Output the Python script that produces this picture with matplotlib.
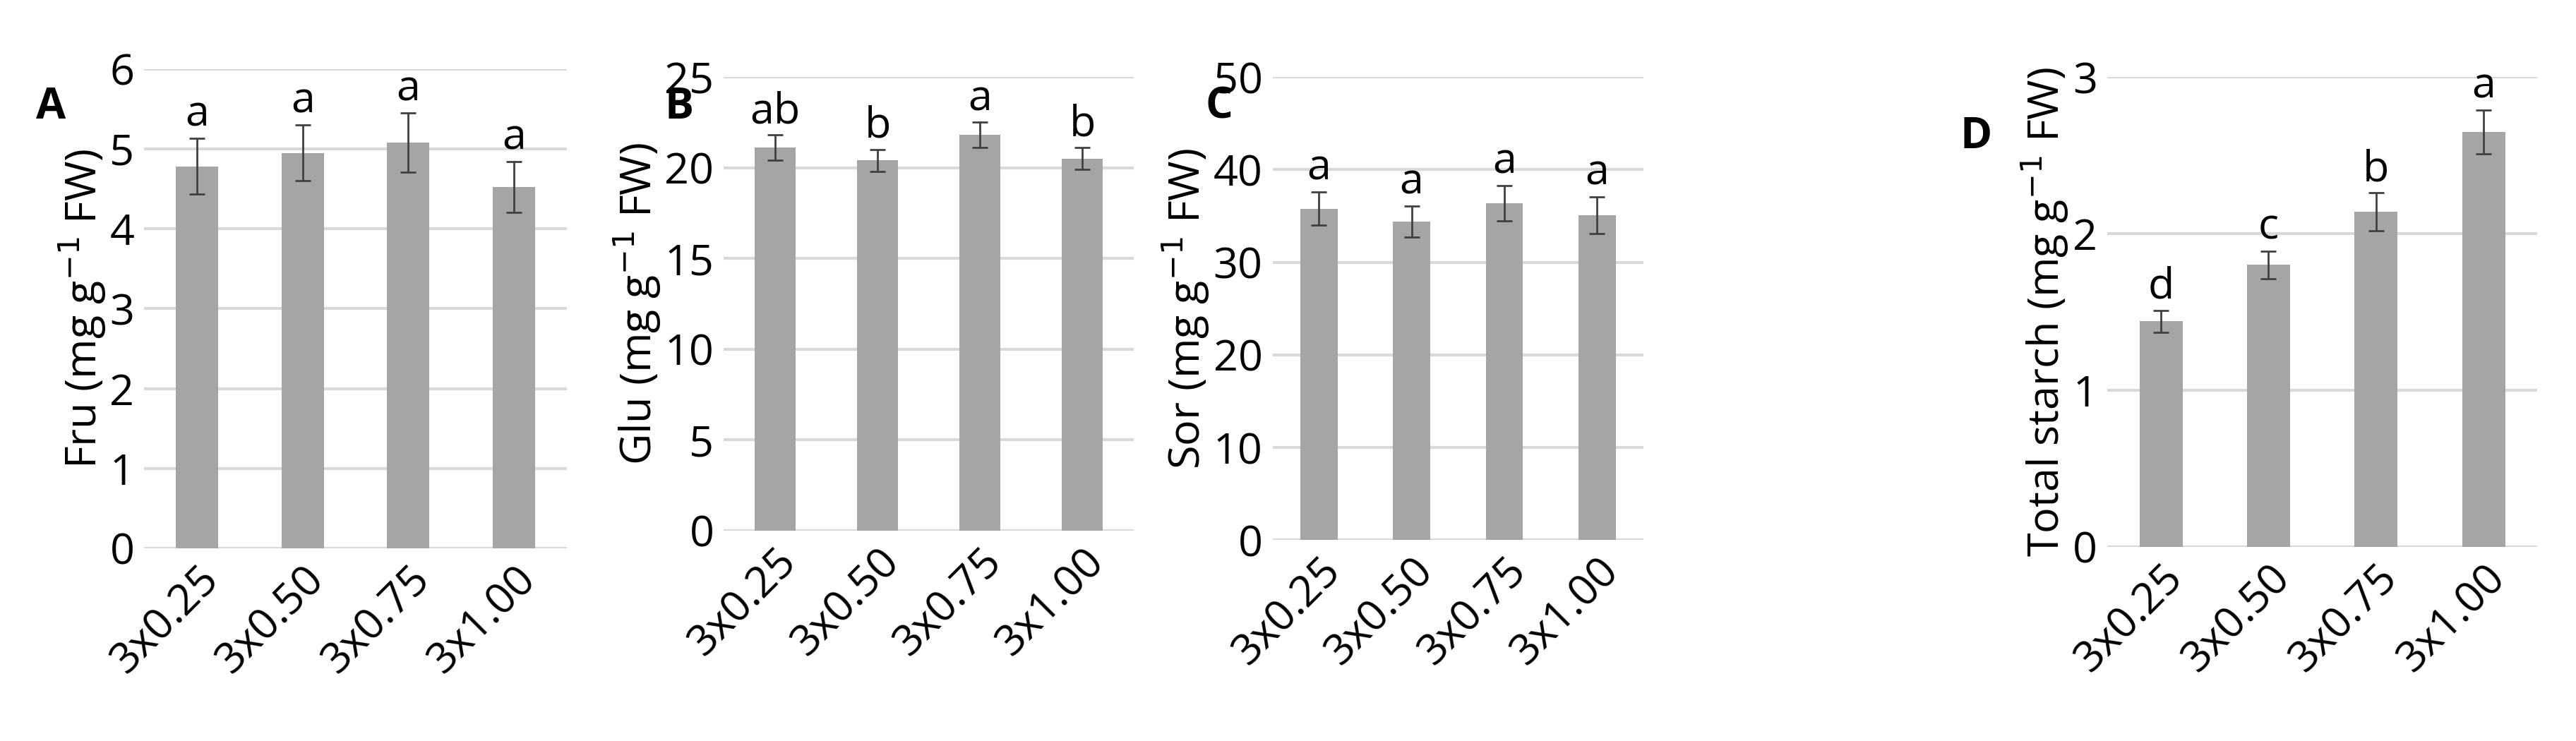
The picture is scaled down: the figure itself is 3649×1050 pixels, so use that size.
import matplotlib
matplotlib.use("Agg")
import matplotlib.pyplot as plt

cats = ["3x0.25", "3x0.50", "3x0.75", "3x1.00"]
fru = [4.78, 4.95, 5.08, 4.52]; fru_err = [0.35, 0.35, 0.37, 0.32]; fru_let = ["a", "a", "a", "a"]
glu = [21.1, 20.4, 21.8, 20.5]; glu_err = [0.7, 0.6, 0.7, 0.6]; glu_let = ["ab", "b", "a", "b"]
sor = [35.8, 34.4, 36.4, 35.1]; sor_err = [1.8, 1.7, 1.9, 2.0]; sor_let = ["a", "a", "a", "a"]
sta = [1.44, 1.80, 2.14, 2.65]; sta_err = [0.07, 0.09, 0.12, 0.14]; sta_let = ["d", "c", "b", "a"]

plt.rcParams['font.family'] = ['Open Sans', 'DejaVu Sans']
fig = plt.figure(figsize=(36.49, 10.5), dpi=100)
FS = 44

panels = [
    ("A", fru, fru_err, fru_let, 6, 1, "Fru (mg g$^{-1}$ FW)", [0.056, 0.26, 0.164, 0.647], (0.014, 0.84)),
    ("B", glu, glu_err, glu_let, 25, 5, "Glu (mg g$^{-1}$ FW)", [0.281, 0.284, 0.159, 0.612], (0.258, 0.84)),
    ("C", sor, sor_err, sor_let, 50, 10, "Sor (mg g$^{-1}$ FW)", [0.494, 0.271, 0.144, 0.625], (0.468, 0.84)),
    ("D", sta, sta_err, sta_let, 3, 1, "Total starch (mg g$^{-1}$ FW)", [0.818, 0.262, 0.167, 0.634], (0.761, 0.8)),
]
for letter, vals, errs, lets, ymax, step, ylabel, rect, lpos in panels:
    ax = fig.add_axes(rect)
    x = range(len(cats))
    ax.bar(x, vals, width=0.4, color="#a5a5a5", zorder=2)
    ax.errorbar(x, vals, yerr=errs, fmt="none", ecolor="#404040", elinewidth=2, capsize=8, capthick=2, zorder=3)
    for i, (v, e, l) in enumerate(zip(vals, errs, lets)):
        ax.text(i, v + e + ymax * 0.005, l, ha="center", va="bottom", fontsize=FS)
    ax.set_ylim(0, ymax)
    ax.set_xlim(-0.5, 3.5)
    ax.set_yticks([i * step for i in range(int(round(ymax / step)) + 1)])
    ax.yaxis.grid(True, color="#d9d9d9", linewidth=3, zorder=0)
    for s in ax.spines.values():
        s.set_visible(False)
    ax.tick_params(axis="both", length=0, labelsize=FS, pad=10)
    ax.set_xticks(list(x))
    ax.set_xticklabels(cats, rotation=45, ha="right", rotation_mode="anchor")
    ax.set_ylabel(ylabel, fontsize=FS, labelpad=2)
    fig.text(lpos[0], lpos[1], letter, fontsize=FS, fontweight="bold")

fig.savefig("out.png", dpi=100)
